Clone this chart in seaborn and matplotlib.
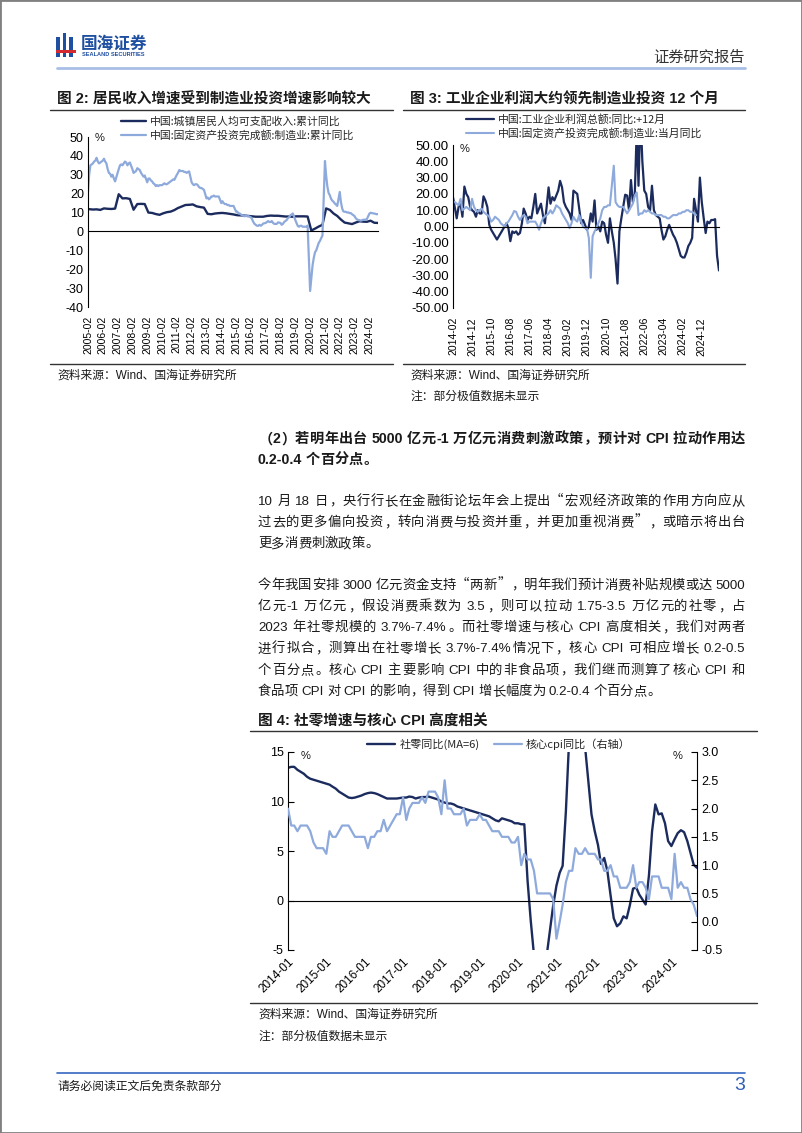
import re
import numpy as np
import pandas as pd
import matplotlib
matplotlib.use("Agg")
import matplotlib.pyplot as plt
import matplotlib.dates as mdates
from matplotlib.lines import Line2D
from matplotlib.patches import Rectangle
import seaborn as sns

# ======================= DATA =======================
# --- Figure 2 : income (quarterly, cumulative YoY) & manufacturing FAI (cumulative YoY, Feb-Dec)
income_start = "2005-03-01"
income_yoy = [11.8, 11.6, 11.7, 11.4,
              12.2, 12.0, 11.9, 12.1,
              19.7, 17.5, 17.6, 17.2,
              11.5, 14.5, 14.6, 14.5,
              10.0, 9.8, 9.2, 8.8,
              9.6, 10.2, 10.5, 11.3,
              12.4, 13.2, 14.0, 14.1,
              14.3, 13.3, 12.9, 12.6,
              9.3, 9.1, 9.5, 9.7,
              9.8, 9.6, 9.3, 9.0,
              8.6, 8.5, 8.4, 8.2,
              8.0, 7.8, 7.8, 7.8,
              8.2, 8.4, 8.3, 8.3,
              8.1, 7.9, 7.9, 7.8,
              8.0, 8.0, 8.0, 7.9,
              0.5, 1.5, 2.6, 3.5,
              12.2, 11.4, 9.5, 8.2,
              6.3, 4.7, 4.3, 3.9,
              4.7, 5.4, 5.2, 5.1,
              5.7, 4.6, 4.5]
fai_cum_yoy = [21.0, 30.0, 35.0, 35.5, 36.0, 37.0, 37.5, 39.0, 37.0, 36.0, 36.5,   # 2005
               37.5, 38.5, 37.0, 36.0, 33.0, 31.0, 30.5, 29.0, 30.0, 28.0, 26.5,   # 2006
               31.0, 33.0, 35.0, 35.5, 35.0, 36.0, 37.0, 36.5, 35.0, 36.0, 36.5,   # 2007
               33.0, 31.0, 31.5, 32.0, 33.5, 33.0, 32.5, 31.0, 30.0, 29.0, 29.6,   # 2008
               26.0, 28.0, 28.0, 27.0, 26.5, 25.5, 25.0, 24.0, 24.5, 24.0, 24.5,   # 2009
               24.5, 25.0, 25.5, 25.0, 25.0, 25.5, 26.0, 26.5, 27.0, 27.5, 27.3,   # 2010
               30.0, 31.0, 32.5, 32.0, 32.0, 32.0, 31.5, 31.5, 31.0, 31.5, 31.8,   # 2011
               26.0, 25.0, 24.5, 25.0, 25.0, 24.5, 23.5, 23.0, 23.0, 22.5, 22.0,   # 2012
               17.5, 18.0, 17.0, 17.5, 18.5, 18.5, 19.0, 18.5, 18.5, 18.5, 18.5,   # 2013
               15.0, 16.0, 15.0, 14.5, 14.5, 14.0, 14.0, 13.5, 13.5, 13.5, 13.5,   # 2014
               10.5, 10.5, 9.5, 9.5, 9.0, 8.5, 8.5, 8.0, 8.5, 8.0, 8.1,            # 2015
               7.5, 6.5, 5.0, 4.0, 3.5, 3.0, 3.0, 3.5, 3.0, 3.5, 4.2,              # 2016
               4.5, 5.0, 5.5, 5.0, 5.0, 5.5, 4.5, 4.0, 4.0, 4.0, 4.8,              # 2017
               4.5, 3.5, 4.0, 5.0, 5.5, 6.0, 7.0, 7.5, 8.5, 9.0, 9.5,              # 2018
               6.0, 4.5, 3.0, 2.5, 3.0, 3.0, 2.5, 2.5, 2.5, 2.5, 3.1,              # 2019
               -31.5, -25.0, -18.0, -14.0, -11.0, -10.0, -8.0, -6.0, -5.0, -3.5, -2.2,  # 2020
               37.3, 29.8, 23.8, 20.4, 19.2, 17.3, 16.3, 15.7, 14.8, 14.2, 13.5,   # 2021
               20.9, 15.6, 12.2, 10.6, 10.4, 10.4, 10.0, 10.1, 9.7, 9.7, 9.1,      # 2022
               8.1, 7.0, 6.4, 6.0, 6.0, 5.7, 5.9, 6.2, 6.2, 6.3, 6.5,              # 2023
               9.4, 9.9, 9.7, 9.6, 9.5, 9.3, 9.1, 9.2]                             # 2024
fig2_tick_labels = [f"{y}-02" for y in range(2005, 2025)]
fig2_legend = ["中国:城镇居民人均可支配收入:累计同比", "中国:固定资产投资完成额:制造业:累计同比"]

# --- Figure 3 : industrial profit YoY (+12 months) & manufacturing FAI monthly YoY
fig3_start = "2014-02-01"
profit_yoy_lead12 = [18, 12, 5, 12, 14, 6, 24.5, 20, 18, 12,
                     10, 9, 6, 10, 8, 8, 18.5, 16, 12, 1,
                     -2, -4, -6, -8, -6, -4, -2, 0, 2, -1,
                     -9, -3, -4, -3, -5, -4, 2, 11, 8, 4,
                     6, 5, 12, 20, 8, 11, 14, 7, 2, 12,
                     24, 14, 18, 16, 19, 22, 28, 24, 15, 12,
                     10, 8, 4, 22, 21, 20, 11, 2, 4, 1,
                     -2, 0, 8, 3, 16, -2, 0, -3, 3, 2,
                     -5, -10, 5, -3, -10, -20, -35, -3, 5, 12,
                     19.5, 19, 10, 28.5, 15, 20, 60, 25, 70, 40,
                     22, 20, 12, 10, 25, 10, 7, 6, 5, -2,
                     -8, -6, -2, 1, -2, -5, -7, -10, -14, -18,
                     -19, -19, -16, -12, -10, -7, 17, 10, 3, 30,
                     15, 5, -4, 3, 2, 4, 4, 4.5, -18, -27]
fai_month_yoy = [15, 15, 14, 13, 17, 10, 11, 12, 11, 10, 17,      # 2014 Feb-Dec
                 12, 10, 9, 10, 11, 9, 8, 7, 6, 3, 4, 6,          # 2015
                 5, 4, 2, 1, 0, 2, 3, 5, 7, 9.5, 9, 6,            # 2016
                 4, 6, 7, 6, 2, 3, 3, 3, 3, 1, -2, 2,             # 2017
                 5, 6, 7, 8, 10, 8, 10, 13, 12, 11, 8, 6,         # 2018
                 4, 2, -1, 2, 6, 4, 3, 7, 3, 0, -1, -1,           # 2019
                 -7, -31.5, -6, -3, -1, 2, 5, 10, 12, 12, 13, 13, # 2020
                 25, 37.3, 15, 13, 12, 12, 12, 10, 8, 10, 12, 14, # 2021
                 19, 20.9, 7, 8, 8, 10, 9, 10, 9, 8, 8, 7,        # 2022
                 7, 7, 7, 6, 6, 5, 5, 6, 7, 7, 7, 8,              # 2023
                 8, 9, 9, 10, 10, 9, 9, 8, 7]                     # 2024
fig3_tick_labels = ["2014-02", "2014-12", "2015-10", "2016-08", "2017-06", "2018-04", "2019-02",
                    "2019-12", "2020-10", "2021-08", "2022-06", "2023-04", "2024-02", "2024-12"]
fig3_legend = ["中国:工业企业利润总额:同比:+12月", "中国:固定资产投资完成额:制造业:当月同比"]

# --- Figure 4 : retail sales YoY (MA6, left) & core CPI YoY (right), monthly from 2014-01
fig4_start = "2014-01-01"
retail_ma6 = [13.4, 13.5, 13.5, 13.2, 13.0, 12.8, 12.5, 12.3, 12.2, 12.1, 12.0, 11.9,
              11.8, 11.7, 11.5, 11.3, 11.0, 10.8, 10.6, 10.4, 10.35, 10.4, 10.5, 10.6,
              10.75, 10.85, 10.9, 10.85, 10.75, 10.6, 10.45, 10.3, 10.3, 10.3, 10.3, 10.35,
              10.4, 10.4, 10.5, 10.45, 10.3, 10.4, 10.45, 10.45, 10.5, 10.4, 10.3, 10.2,
              10.0, 9.9, 9.8, 9.8, 9.7, 9.5, 9.4, 9.3, 9.2, 9.1, 9.0, 8.9,
              8.8, 8.7, 8.6, 8.5, 8.3, 8.1, 8.0, 8.3, 8.2, 8.1, 8.0, 7.8,
              7.8, 7.7, 7.7, 2.0, -2.0, -5.5, -7.0, -8.0, -7.0, -5.5, -3.0, -0.5,
              1.5, 2.8, 3.5, 9.0, 16.0, 25.0, 28.0, 26.0, 20.0, 15.5, 12.0, 8.7,
              7.0, 5.6, 3.7, 4.3, 3.0, 0.5, -1.8, -2.6, -2.3, -1.6, -1.8, -0.5,
              1.2, 1.3, 0.6, 0.1, -0.4, 2.5, 7.0, 9.7, 8.7, 8.8, 7.8, 6.0,
              5.5, 6.2, 6.8, 7.1, 6.9, 6.0, 4.8, 3.6, 3.3]
core_cpi = [2.0, 1.7, 1.7, 1.6, 1.7, 1.7, 1.7, 1.6, 1.4, 1.3, 1.3, 1.3,
            1.2, 1.6, 1.5, 1.5, 1.6, 1.7, 1.7, 1.7, 1.6, 1.5, 1.5, 1.5,
            1.5, 1.3, 1.5, 1.5, 1.6, 1.6, 1.8, 1.6, 1.7, 1.8, 1.9, 1.9,
            2.2, 1.8, 2.0, 2.1, 2.1, 2.1, 2.2, 2.1, 2.3, 2.3, 2.3, 2.2,
            1.9, 2.5, 2.0, 2.0, 1.9, 1.9, 1.9, 2.0, 1.7, 1.8, 1.8, 1.8,
            1.9, 1.8, 1.8, 1.7, 1.6, 1.6, 1.6, 1.5, 1.5, 1.5, 1.4, 1.4,
            1.5, 1.0, 1.2, 1.1, 1.1, 0.9, 0.5, 0.5, 0.5, 0.5, 0.5, 0.4,
            -0.3, 0.0, 0.3, 0.7, 0.9, 0.9, 1.3, 1.2, 1.2, 1.3, 1.2, 1.2,
            1.2, 1.1, 1.1, 0.9, 0.9, 1.0, 0.8, 0.8, 0.6, 0.6, 0.6, 0.7,
            1.0, 0.6, 0.7, 0.7, 0.6, 0.4, 0.8, 0.8, 0.8, 0.6, 0.6, 0.6,
            0.4, 1.2, 0.6, 0.7, 0.6, 0.6, 0.4, 0.3, 0.1]
fig4_tick_labels = [f"{y}-01" for y in range(2014, 2025)]
fig4_legend = ["社零同比(MA=6)", "核心cpi同比（右轴）"]

# --- texts
title_fig2 = "图 2: 居民收入增速受到制造业投资增速影响较大"
title_fig3 = "图 3: 工业企业利润大约领先制造业投资 12 个月"
title_fig4 = "图 4: 社零增速与核心 CPI 高度相关"
source_text = "资料来源：Wind、国海证券研究所"
note_text = "注：部分极值数据未显示"
heading_lines = ["（2）若明年出台 5000 亿元-1 万亿元消费刺激政策，预计对 CPI 拉动作用达",
                 "0.2-0.4 个百分点。"]
para1_lines = ["10 月 18 日，央行行长在金融街论坛年会上提出“宏观经济政策的作用方向应从",
               "过去的更多偏向投资，转向消费与投资并重，并更加重视消费”，或暗示将出台",
               "更多消费刺激政策。"]
para2_lines = ["今年我国安排 3000 亿元资金支持“两新”，明年我们预计消费补贴规模或达 5000",
               "亿元-1 万亿元，假设消费乘数为 3.5，则可以拉动 1.75-3.5 万亿元的社零，占",
               "2023 年社零规模的 3.7%-7.4%。而社零增速与核心 CPI 高度相关，我们对两者",
               "进行拟合，测算出在社零增长 3.7%-7.4%情况下，核心 CPI 可相应增长 0.2-0.5",
               "个百分点。核心 CPI 主要影响 CPI 中的非食品项，我们继而测算了核心 CPI 和",
               "食品项 CPI 对 CPI 的影响，得到 CPI 增长幅度为 0.2-0.4 个百分点。"]
brand_cn = "国海证券"
brand_en = "SEALAND SECURITIES"
report_type = "证券研究报告"
footer_text = "请务必阅读正文后免责条款部分"
page_no = "3"

# ======================= STYLE =======================
DARK = "#1c2b5e"
LIGHT = "#8eaadc"
TXT = "#1a1a1a"
BLUE = "#1f4fa0"

sns.set_theme(style="white")
LAT = ["Liberation Sans", "Noto Sans CJK SC"]
CJK = ["Noto Sans CJK SC", "Liberation Sans"]
plt.rcParams["font.family"] = LAT
plt.rcParams["axes.unicode_minus"] = False

W, H = 802, 1133
fig = plt.figure(figsize=(W / 100, H / 100), dpi=100)
fig.patch.set_facecolor("white")
renderer = fig.canvas.get_renderer()


def fx(x):
    return x / W


def fy(y):
    return 1 - y / H


def axes_px(x0, y0, x1, y1):
    return fig.add_axes([x0 / W, 1 - y1 / H, (x1 - x0) / W, (y1 - y0) / H])


def ftext(x, y, s, **kw):
    kw.setdefault("va", "center")
    kw.setdefault("color", TXT)
    return fig.text(fx(x), fy(y), s, **kw)


def hline(x0, x1, y, color="#333333", lw=0.9):
    fig.add_artist(Line2D([fx(x0), fx(x1)], [fy(y), fy(y)], color=color, lw=lw,
                          transform=fig.transFigure))


def chart_axes(x0, y0, x1, y1):
    ax = axes_px(x0, y0, x1, y1)
    ax.set_facecolor("none")
    ax.grid(False)
    for s in ("top", "right"):
        ax.spines[s].set_visible(False)
    for s in ("left", "bottom"):
        ax.spines[s].set_color("black")
        ax.spines[s].set_linewidth(0.8)
    ax.spines["bottom"].set_position(("data", 0))
    return ax


def set_y(ax, lo, hi, step, fmt, size):
    ticks = np.arange(lo, hi + step / 2, step)
    ax.set_ylim(lo, hi)
    ax.set_yticks(ticks)
    ax.set_yticklabels([fmt.format(t) for t in ticks])
    ax.tick_params(axis="y", direction="in", length=4, width=0.8, labelsize=size,
                   pad=3, colors="black")


def set_x(ax, tick_labels, start, end, size, rotation, pad, ha="center", anchor=False):
    ticks = mdates.date2num(pd.to_datetime(tick_labels))
    ax.set_xlim(mdates.date2num(pd.Timestamp(start)), mdates.date2num(pd.Timestamp(end)))
    ax.set_xticks(ticks)
    ax.tick_params(axis="x", direction="in", length=4, width=0.8, labelbottom=False,
                   colors="black")
    sec = ax.secondary_xaxis("bottom")
    kw = dict(rotation=rotation, ha=ha, fontsize=size, color="black")
    if anchor:
        kw["rotation_mode"] = "anchor"
        kw["va"] = "top"
    sec.set_ticks(ticks, labels=tick_labels, **kw)
    sec.tick_params(length=0, pad=pad)
    for s in sec.spines.values():
        s.set_visible(False)
    ax.set_xlabel("")
    ax.set_ylabel("")


def line(ax, dates, vals, color, lw, label):
    sns.lineplot(x=mdates.date2num(pd.to_datetime(dates)), y=vals, ax=ax, color=color,
                 linewidth=lw, label=label, estimator=None, sort=False, legend=False)


# ======================= PAGE FRAME / HEADER / FOOTER =======================
fig.add_artist(Rectangle((0, 0), 1, 1, transform=fig.transFigure, fill=False,
                         ec="#808080", lw=2))
logo_parts = [(56, 37, 59.5, 57, BLUE), (62.5, 33, 66, 57, BLUE), (69, 37, 72.5, 57, BLUE),
              (56, 50, 76, 53, "#d42a2f")]
for x0, y0, x1, y1, c in logo_parts:
    fig.add_artist(Rectangle((fx(x0), fy(y1)), (x1 - x0) / W, (y1 - y0) / H,
                             transform=fig.transFigure, fc=c, ec="none"))
ftext(81, 44, brand_cn, fontsize=12, fontweight="bold", color=BLUE, family=CJK)
ftext(82, 55, brand_en, fontsize=4.1, fontweight="bold", color=BLUE, family=LAT)
ftext(745, 57, report_type, fontsize=11, color="#333333", family=CJK, ha="right")
hline(57, 745, 68, color="#a9bfe6", lw=2)

hline(57, 745, 1073, color="#3567bf", lw=1.2)
ftext(57, 1086, footer_text, fontsize=8.5, family=CJK)
ftext(745, 1085, page_no, fontsize=14, color="#2f5fb5", ha="right", family=LAT)

# ======================= FIGURE 2 =======================
ftext(57, 100, title_fig2, fontsize=10.5, fontweight="bold")
hline(50, 393, 110, lw=1.0)
ax2 = chart_axes(88, 137, 378, 307)
income_dates = pd.date_range(income_start, periods=len(income_yoy), freq="3MS")
fai_cum_dates = [pd.Timestamp(y, m, 1) for y in range(2005, 2025) for m in range(2, 13)][:len(fai_cum_yoy)]
line(ax2, income_dates, income_yoy, DARK, 1.7, fig2_legend[0])
line(ax2, fai_cum_dates, fai_cum_yoy, LIGHT, 1.6, fig2_legend[1])
set_y(ax2, -40, 50, 10, "{:.0f}", 9)
set_x(ax2, fig2_tick_labels, "2005-02-01", fai_cum_dates[-1], 7.5, 90, 6)
ftext(95, 138, "%", fontsize=8)
h, l = ax2.get_legend_handles_labels()
fig.legend(h, l, loc="upper left", bbox_to_anchor=(fx(121), fy(116)), frameon=False,
           prop={"family": CJK, "size": 7.8}, handlelength=2.3, handletextpad=0.35,
           labelspacing=0.3, borderpad=0, borderaxespad=0)
hline(50, 393, 364, lw=1.0)
ftext(57, 376, source_text, fontsize=8.5)

# ======================= FIGURE 3 =======================
ftext(410, 100, title_fig3, fontsize=10.5, fontweight="bold")
hline(403, 745, 110, lw=1.0)
ax3 = chart_axes(453, 145, 719, 308)
profit_dates = pd.date_range(fig3_start, periods=len(profit_yoy_lead12), freq="MS")
fai_month_dates = pd.date_range(fig3_start, periods=len(fai_month_yoy), freq="MS")
line(ax3, profit_dates, profit_yoy_lead12, DARK, 1.6, fig3_legend[0])
line(ax3, fai_month_dates, fai_month_yoy, LIGHT, 1.5, fig3_legend[1])
set_y(ax3, -50, 50, 10, "{:.2f}", 9.5)
set_x(ax3, fig3_tick_labels, fig3_start, profit_dates[-1], 7.5, 90, 6.5)
ftext(460, 149, "%", fontsize=8)
h, l = ax3.get_legend_handles_labels()
fig.legend(h, l, loc="upper left", bbox_to_anchor=(fx(466), fy(114)), frameon=False,
           prop={"family": CJK, "size": 7.8}, handlelength=2.6, handletextpad=0.35,
           labelspacing=0.28, borderpad=0, borderaxespad=0)
hline(403, 745, 364, lw=1.0)
ftext(410, 376, source_text, fontsize=8.5)
ftext(410, 396, note_text, fontsize=8.5, family=CJK)

# ======================= BODY TEXT =======================
LEFT_P = set("，。、：；）”！？（")
RIGHT_P = set("“")
TOKEN_RE = re.compile(r"[A-Za-z0-9.%+=\-/()]+| |.")


def draw_line(text, x0, x1, yc, fs, weight="normal", justify=True):
    em = fs * 100 / 72
    base = yc + 0.36 * em
    items = []
    for t in TOKEN_RE.findall(text):
        if t == " ":
            items.append((None, 0.25 * em, None))
        elif len(t) == 1 and ord(t) > 0x2000:
            txt = fig.text(0, 0, t, fontsize=fs, family=CJK, fontweight=weight,
                           va="baseline", color=TXT)
            kind = "L" if t in LEFT_P else ("R" if t in RIGHT_P else "C")
            txt.set_ha({"L": "left", "R": "right", "C": "center"}[kind])
            items.append((txt, em, kind))
        else:
            txt = fig.text(0, 0, t, fontsize=fs, family=LAT, fontweight=weight,
                           va="baseline", ha="left", color=TXT)
            w = txt.get_window_extent(renderer).width
            items.append((txt, w, "A"))
    total = sum(w for _, w, _ in items)
    gap = (x1 - x0 - total) / (len(items) - 1) if (justify and len(items) > 1) else 0.0
    x = x0
    for txt, w, kind in items:
        if txt is not None:
            if kind == "C":
                px = x + em / 2
            elif kind == "L":
                px = x + 0.06 * em
            elif kind == "R":
                px = x + em - 0.06 * em
            else:
                px = x
            txt.set_position((fx(px), fy(base)))
        x += w + gap


def draw_paragraph(lines, y0, fs, weight="normal", step=21.2):
    for i, ln in enumerate(lines):
        draw_line(ln, 258, 745, y0 + i * step, fs, weight, justify=(i < len(lines) - 1))


draw_paragraph(heading_lines, 438, 10.2, weight="bold")
draw_paragraph(para1_lines, 500, 9.6)
draw_paragraph(para2_lines, 584, 9.6)

# ======================= FIGURE 4 =======================
ftext(258, 721, title_fig4, fontsize=10.5, fontweight="bold")
hline(250, 757, 731, lw=1.0)
ax4 = chart_axes(288, 752, 697, 950)
ax4r = ax4.twinx()
fig4_dates = pd.date_range(fig4_start, periods=len(retail_ma6), freq="MS")
cpi_dates = pd.date_range(fig4_start, periods=len(core_cpi), freq="MS")
line(ax4, fig4_dates, retail_ma6, DARK, 1.7, fig4_legend[0])
line(ax4r, cpi_dates, core_cpi, LIGHT, 1.6, fig4_legend[1])
set_y(ax4, -5, 15, 5, "{:.0f}", 9)
ax4r.set_ylim(-0.5, 3.0)
rt = np.arange(-0.5, 3.01, 0.5)
ax4r.set_yticks(rt)
ax4r.set_yticklabels([f"{v:.1f}" for v in rt])
ax4r.tick_params(axis="y", direction="in", length=4, width=0.8, labelsize=9, pad=3,
                 colors="black")
ax4r.grid(False)
for s in ("top", "bottom", "left"):
    ax4r.spines[s].set_visible(False)
ax4r.spines["right"].set_color("black")
ax4r.spines["right"].set_linewidth(0.8)
ax4r.set_ylabel("")
set_x(ax4, fig4_tick_labels, fig4_start, fig4_dates[-1], 8.5, 45, 4, ha="right", anchor=True)
ftext(301, 756, "%", fontsize=8)
ftext(673, 756, "%", fontsize=8)
h1, l1 = ax4.get_legend_handles_labels()
h2, l2 = ax4r.get_legend_handles_labels()
fig.legend(h1 + h2, l1 + l2, loc="center left", bbox_to_anchor=(fx(367), fy(744)),
           ncol=2, frameon=False, prop={"family": CJK, "size": 8}, handlelength=2.5,
           handletextpad=0.4, columnspacing=1.3, borderpad=0, borderaxespad=0)
hline(250, 757, 1003, lw=1.0)
ftext(258, 1015, source_text, fontsize=8.5)
ftext(258, 1036, note_text, fontsize=8.5, family=CJK)

fig.savefig("out.png", dpi=100, facecolor="white")
